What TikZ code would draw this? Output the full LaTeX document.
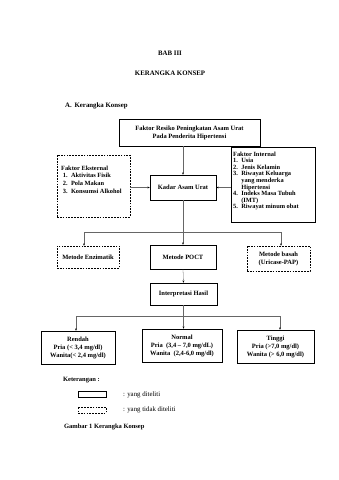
\documentclass[tikz,border=0pt]{standalone}
\usepackage{fontspec}
\setmainfont{Liberation Serif}
\usetikzlibrary{arrows.meta}
\def\pxu{1.754pt}
\begin{document}
\begin{tikzpicture}[x=1.754pt,y=-1.754pt,
  every node/.style={inner sep=0pt, font=\fontsize{11.4}{14}\selectfont\bfseries},
  solidbox/.style={draw, line width=0.9pt, align=center},
  dashbox/.style={draw, line width=0.9pt, dash pattern=on 3pt off 2pt, align=center},
  conn/.style={draw=black!60, line width=0.5pt},
  arr/.style={conn, -{Stealth[length=4pt,width=3.2pt,black]}},
  head/.style={font=\fontsize{12}{14}\selectfont\bfseries},
  note/.style={font=\fontsize{12}{14}\selectfont},
  listtext/.style={font=\fontsize{11.2}{13.6}\selectfont\bfseries}
]
\useasboundingbox (0,0) rectangle (339,480);

% headings
\node[head] (bab) at (170,53) {BAB III};
\node[head] (judul) at (170,73) {KERANGKA KONSEP};
\node[head, anchor=west] (sub) at (65,106) {A.\hspace{5pt}Kerangka Konsep};

% boxes
\node[solidbox, minimum width=141*\pxu, minimum height=27*\pxu] (top) at (189.5,132.5)
  {Faktor Resiko Peningkatan Asam Urat\\Pada Penderita Hipertensi};
\node[dashbox, minimum width=73*\pxu, minimum height=62*\pxu] (ekst) at (93.5,186) {};
\node[anchor=north west, align=left, listtext] (eksttext) at (61,164.5)
  {\begin{tabular}{@{}l@{\hspace{6pt}}l@{}}
   \multicolumn{2}{@{}l@{}}{Faktor Eksternal}\\
   \hspace*{3pt}1. & Aktivitas Fisik\\
   \hspace*{3pt}2. & Pola Makan\\
   \hspace*{3pt}3. & Konsumsi Alkohol
   \end{tabular}};
\node[solidbox, minimum width=66*\pxu, minimum height=25*\pxu] (kadar) at (183,187.5) {Kadar Asam Urat};
\node[solidbox, minimum width=84*\pxu, minimum height=75*\pxu] (int) at (273,185) {};
\node[anchor=north west, align=left, listtext] (inttext) at (233,150.5)
  {\begin{tabular}{@{}l@{\hspace{6pt}}l@{}}
   \multicolumn{2}{@{}l@{}}{Faktor Internal}\\[-2pt]
   1. & Usia\\[-2pt]
   2. & Jenis Kelamin\\[-2pt]
   3. & Riwayat Keluarga\\[-2pt]
      & yang menderka\\[-2pt]
      & Hipertensi\\[-2pt]
   4. & Indeks Masa Tubuh\\[-2pt]
      & (IMT)\\[-2pt]
   5. & Riwayat minum obat
   \end{tabular}};

\node[dashbox, minimum width=62*\pxu, minimum height=22*\pxu] (enz) at (88,257) {Metode Enzimatik};
\node[solidbox, minimum width=66*\pxu, minimum height=24*\pxu] (poct) at (183,257) {Metode POCT};
\node[dashbox, minimum width=63*\pxu, minimum height=25*\pxu] (basah) at (278.5,258.5) {Metode basah\\(Uricase-PAP)};
\node[solidbox, minimum width=67*\pxu, minimum height=22*\pxu] (interp) at (183.5,294) {Interpretasi Hasil};

\node[solidbox, minimum width=74*\pxu, minimum height=33*\pxu] (rendah) at (78,347.5)
  {Rendah\\Pria (< 3,4 mg/dl)\\Wanita(< 2,4 mg/dl)};
\node[solidbox, minimum width=80*\pxu, minimum height=33*\pxu] (normal) at (182,345.5)
  {Normal\\Pria\ \ (3,4 – 7,0 mg/dL)\\Wanita\ \ (2,4-6,0 mg/dl)};
\node[solidbox, minimum width=77*\pxu, minimum height=33*\pxu] (tinggi) at (275.5,346.5)
  {Tinggi\\Pria (>7,0 mg/dl)\\Wanita (> 6,0 mg/dl)};

% connectors
\draw[arr] (kadar.north |- top.south) -- (kadar.north);
\draw[arr] (kadar.west -| ekst.east) -- (kadar.west);
\draw[arr] (kadar.east -| int.west) -- (kadar.east);

\coordinate (s1) at (183,232);
\coordinate (s1l) at (84,232);
\coordinate (s1r) at (281,232);
\draw[conn] (kadar.south) -- (s1);
\draw[conn] (s1l) -- (s1r);
\draw[arr] (s1l) -- (s1l |- enz.north);
\draw[arr] (s1) -- (poct.north);
\draw[arr] (s1r) -- (s1r |- basah.north);

\draw[arr] (poct.south) -- (interp.north);

\coordinate (s2) at (183.5,316);
\coordinate (s2l) at (76,316);
\coordinate (s2r) at (280,316);
\draw[conn] (interp.south) -- (s2);
\draw[conn] (s2l) -- (s2r);
\draw[arr] (s2l) -- (s2l |- rendah.north);
\draw[arr] (s2) -- (s2 |- normal.north);
\draw[arr] (s2r) -- (s2r |- tinggi.north);

% legend
\node[anchor=west] (ket) at (63,380) {Keterangan :};
\node[solidbox, minimum width=28*\pxu, minimum height=5.5*\pxu] (legsolid) at (92,394.5) {};
\node[dashbox, minimum width=28*\pxu, minimum height=6*\pxu] (legdash) at (92,410) {};
\node[note, anchor=west] (legsolidtext) at (123,394.5) {: yang diteliti};
\node[note, anchor=west] (legdashtext) at (123,410) {: yang tidak diteliti};
\node[anchor=west] (gambar) at (64,427) {Gambar 1 Kerangka Konsep};
\end{tikzpicture}
\end{document}
